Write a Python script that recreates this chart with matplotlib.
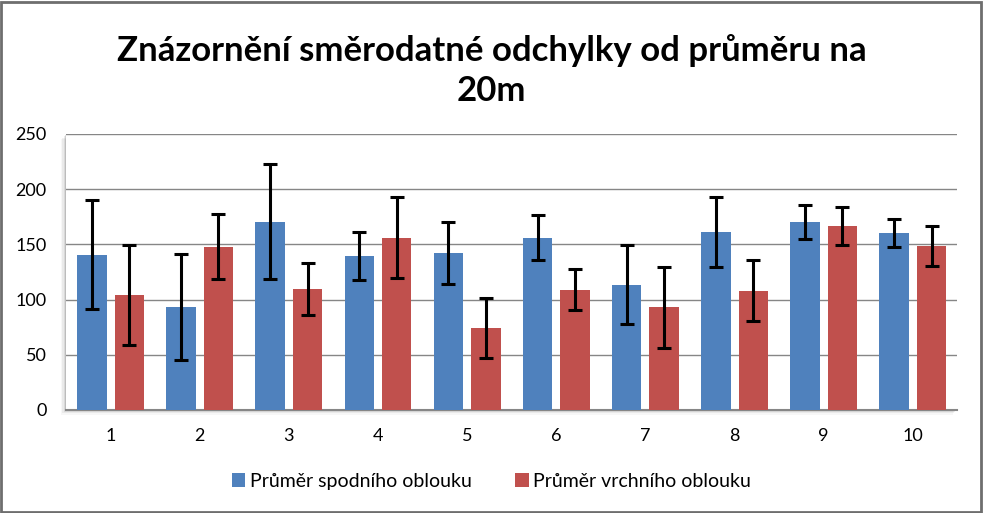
import matplotlib
matplotlib.use("Agg")
import matplotlib.pyplot as plt
import numpy as np
from matplotlib.patches import Rectangle

plt.rcParams['font.family'] = ['Lato', 'DejaVu Sans']

categories = ["1", "2", "3", "4", "5", "6", "7", "8", "9", "10"]
spodni = [140.6, 93.1, 170.5, 139.7, 142.4, 156.0, 113.4, 161.4, 170.5, 160.5]
spodni_sd = [49.4, 47.8, 52.3, 21.7, 28.3, 20.4, 35.8, 31.7, 15.4, 12.7]
vrchni = [104.3, 147.8, 109.7, 156.0, 74.4, 108.8, 93.1, 107.9, 166.9, 148.7]
vrchni_sd = [45.0, 29.5, 23.4, 36.7, 27.2, 18.6, 36.7, 27.7, 17.2, 18.1]
yticks = [0, 50, 100, 150, 200, 250]

title = "Znázornění směrodatné odchylky od průměru na\n20m"
labels = ["Průměr spodního oblouku", "Průměr vrchního oblouku"]
blue = "#4f81bd"
red = "#c0504d"

fig = plt.figure(figsize=(9.83, 5.13), dpi=100)
fig.patch.set_facecolor("white")
# outer border
fig.add_artist(Rectangle((0.0015, 0.002), 0.996, 0.995, transform=fig.transFigure,
                         fill=False, edgecolor="#6e6e6e", linewidth=2.0))

ax = fig.add_axes([0.0671, 0.2008, 0.9069, 0.538])
x = np.arange(len(categories))
w = 0.33
off = 0.21
ekw = dict(ecolor="black", elinewidth=2.2, capsize=5, capthick=2.2)
ax.bar(x - off, spodni, w, color=blue, yerr=spodni_sd, error_kw=ekw, label=labels[0], zorder=3)
ax.bar(x + off, vrchni, w, color=red, yerr=vrchni_sd, error_kw=ekw, label=labels[1], zorder=3)

ax.set_xlim(-0.5, len(categories) - 0.5)
ax.set_ylim(0, 250)
ax.set_yticks(yticks)
ax.set_xticks(x)
ax.set_xticklabels(categories)
ax.yaxis.grid(True, color="#868686", linewidth=1.0, zorder=0)
ax.set_axisbelow(True)
for s in ["top", "right", "left"]:
    ax.spines[s].set_visible(False)
ax.spines["bottom"].set_color("#868686")
ax.spines["bottom"].set_linewidth(1.5)
ax.tick_params(axis="both", length=0, labelsize=13, colors="black")
ax.tick_params(axis="x", pad=13)
ax.tick_params(axis="y", pad=14)

# shadow around plot area
pos = ax.get_position()
for i, a in enumerate([0.12, 0.08, 0.05, 0.03]):
    d = (i + 1) * 0.0012
    fig.add_artist(Rectangle((pos.x0 - d, pos.y0 - d * 1.9), pos.width, pos.height,
                             transform=fig.transFigure, facecolor="black", alpha=a,
                             edgecolor="none", zorder=-1))
fig.add_artist(Rectangle((pos.x0, pos.y0), pos.width, pos.height,
                         transform=fig.transFigure, facecolor="white",
                         edgecolor="none", zorder=-0.5))
ax.patch.set_alpha(0)

fig.text(0.5, 0.862, title, ha="center", va="center", fontsize=25, fontweight="bold",
         linespacing=1.32)

leg = fig.legend(loc="center", bbox_to_anchor=(0.5, 0.062), ncol=2, frameon=False,
                 fontsize=14, handlelength=0.7, handleheight=0.7, handletextpad=0.25,
                 columnspacing=2.2)

fig.savefig("out.png", dpi=100)
